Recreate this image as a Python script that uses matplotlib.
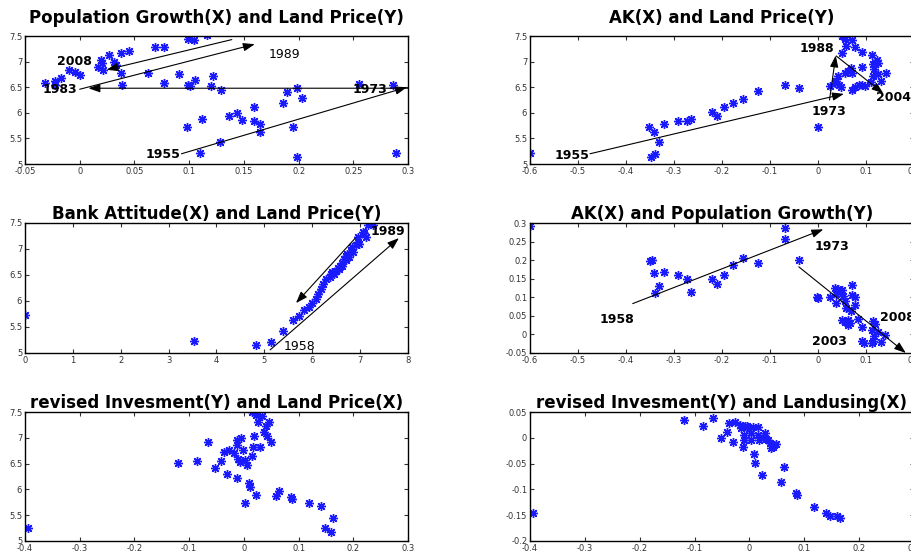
import matplotlib
matplotlib.use("Agg")
import matplotlib.pyplot as plt
from matplotlib.ticker import FuncFormatter

plt.rcParams['font.family'] = ['DejaVu Sans']
plt.rcParams['axes.unicode_minus'] = False

# ---------------- data ----------------
# Panel 1: Population Growth (X) vs Land Price (Y)
pg_x = [-0.032, -0.023, -0.023, -0.017, -0.010, -0.004, 0.000, 0.017, 0.019, 0.020,
        0.021, 0.027, 0.031, 0.033, 0.038, 0.038, 0.039, 0.045, 0.062, 0.069,
        0.077, 0.077, 0.091, 0.099, 0.104, 0.099, 0.101, 0.105, 0.116, 0.120,
        0.122, 0.129, 0.098, 0.112, 0.110, 0.128, 0.136, 0.144, 0.148, 0.159,
        0.159, 0.165, 0.165, 0.186, 0.189, 0.195, 0.199, 0.199, 0.203, 0.255,
        0.286, 0.289]
pg_y = [6.59, 6.63, 6.55, 6.68, 6.84, 6.80, 6.73, 6.90, 7.03, 6.98,
        6.84, 7.12, 7.00, 6.93, 7.17, 6.78, 6.54, 7.21, 6.77, 7.29,
        7.29, 6.58, 6.76, 7.45, 7.42, 6.54, 6.52, 6.64, 7.51, 6.52,
        6.71, 6.45, 5.73, 5.88, 5.21, 5.42, 5.94, 6.00, 5.85, 6.11,
        5.84, 5.79, 5.63, 6.20, 6.41, 5.72, 6.49, 5.14, 6.28, 6.56,
        6.55, 5.21]

# Panel 2: AK (X) vs Land Price (Y)
ak_x = [-0.599, -0.352, -0.341, -0.331, -0.347, -0.340, -0.320, -0.291, -0.273, -0.265,
        -0.221, -0.210, -0.195, -0.178, -0.157, -0.124, -0.068, -0.040, -0.001,
        0.049, 0.056, 0.070, 0.059, 0.077, 0.092, 0.049, 0.113, 0.122, 0.125,
        0.118, 0.114, 0.091, 0.117, 0.068, 0.063, 0.056, 0.070, 0.125, 0.141,
        0.115, 0.042, 0.038, 0.132, 0.035, 0.024, 0.043, 0.047, 0.070, 0.077,
        0.085, 0.092, 0.097, 0.111]
ak_lp = [5.21, 5.72, 5.63, 5.42, 5.13, 5.20, 5.79, 5.84, 5.84, 5.88,
         6.01, 5.94, 6.11, 6.20, 6.27, 6.43, 6.54, 6.49, 5.72,
         7.50, 7.44, 7.42, 7.30, 7.29, 7.19, 7.17, 7.13, 7.03, 6.98,
         6.97, 6.95, 6.90, 6.85, 6.87, 6.82, 6.77, 6.77, 6.75, 6.78,
         6.71, 6.71, 6.63, 6.63, 6.59, 6.52, 6.54, 6.51, 6.45, 6.50,
         6.54, 6.54, 6.52, 6.61]

# Panel 3: Bank Attitude (X) vs Land Price (Y)
ba_x = [0.00, 3.52, 4.82, 5.13, 5.39, 5.59, 5.73, 5.83, 5.93, 6.00,
        6.07, 6.13, 6.18, 6.23, 6.28, 6.37, 6.39, 6.42, 6.46, 6.49,
        6.54, 6.56, 6.59, 6.63, 6.63, 6.66, 6.70, 6.70, 6.73, 6.77,
        6.80, 6.84, 6.86, 6.91, 6.96, 6.96, 6.98, 7.05, 7.08, 7.12,
        7.17, 7.22, 7.26]
ba_y = [5.73, 5.24, 5.15, 5.21, 5.42, 5.64, 5.72, 5.82, 5.89, 5.96,
        6.03, 6.13, 6.23, 6.32, 6.43, 6.47, 6.52, 6.55, 6.52, 6.58,
        6.63, 6.62, 6.68, 6.74, 6.67, 6.81, 6.86, 6.78, 6.90, 6.84,
        6.97, 7.03, 6.94, 7.07, 7.14, 7.23, 7.10, 7.33, 7.30, 7.24,
        7.46, 7.50, 7.47]

# Panel 4: AK (X) vs Population Growth (Y)
ak2_x = [-0.599, -0.350, -0.345, -0.341, -0.331, -0.340, -0.320, -0.291, -0.273, -0.265,
         -0.221, -0.210, -0.195, -0.178, -0.157, -0.124, -0.068, -0.068, -0.040, -0.001,
         -0.003, 0.024, 0.035, 0.042, 0.049, 0.038, 0.045, 0.052, 0.037, 0.056,
         0.071, 0.070, 0.077, 0.078, 0.059, 0.068, 0.050, 0.056, 0.063, 0.066,
         0.063, 0.084, 0.092, 0.115, 0.118, 0.113, 0.125, 0.117, 0.139, 0.131,
         0.091, 0.096, 0.115, 0.113]
ak2_pg = [0.292, 0.198, 0.200, 0.166, 0.130, 0.112, 0.168, 0.159, 0.148, 0.114,
          0.148, 0.137, 0.159, 0.187, 0.205, 0.192, 0.287, 0.257, 0.200, 0.098,
          0.100, 0.100, 0.125, 0.123, 0.120, 0.110, 0.114, 0.103, 0.085, 0.089,
          0.133, 0.105, 0.102, 0.078, 0.071, 0.062, 0.039, 0.033, 0.039, 0.030,
          0.025, 0.041, 0.019, 0.035, 0.029, 0.012, 0.007, -0.005, -0.002, -0.020,
          -0.018, -0.022, -0.017, -0.024]

# Panel 5: revised Investment vs Land Price
ri_x = [-0.395, -0.121, -0.086, -0.066, -0.052, -0.042, -0.037, -0.031, -0.028, -0.018,
        -0.013, -0.012, -0.012, -0.006, -0.011, -0.007, -0.001, 0.003, 0.005, 0.002,
        0.009, 0.011, 0.015, 0.023, 0.026, 0.034, 0.015, 0.017, 0.018, 0.023,
        0.029, 0.037, 0.040, 0.043, 0.046, 0.049, 0.058, 0.064, 0.086, 0.088,
        0.119, 0.141, 0.148, 0.159, 0.163]
ri_lp = [5.25, 6.52, 6.55, 6.91, 6.42, 6.55, 6.72, 6.30, 6.76, 6.70,
         6.87, 6.96, 6.23, 6.99, 6.59, 6.54, 6.77, 6.57, 6.48, 5.74,
         6.12, 6.04, 7.50, 7.44, 7.30, 7.43, 6.64, 6.82, 7.04, 5.89,
         6.83, 7.12, 7.22, 7.03, 7.30, 6.91, 5.87, 5.97, 5.86, 5.81,
         5.73, 5.67, 5.25, 5.18, 5.44]

# Panel 6: revised Investment vs Landusing
ri2_x = [-0.395, -0.120, -0.085, -0.067, -0.052, -0.040, -0.037, -0.030, -0.026, -0.018,
         -0.016, -0.012, -0.010, -0.009, -0.008, -0.004, 0.000, 0.002, 0.003, 0.006,
         0.009, 0.011, 0.015, 0.015, 0.018, 0.023, 0.024, 0.029, 0.030, 0.034,
         0.037, 0.040, 0.045, 0.049, 0.043, 0.057, 0.063, 0.084, 0.087, 0.118,
         0.139, 0.146, 0.160, 0.165]
ri2_lu = [-0.145, 0.035, 0.023, 0.038, -0.001, 0.011, 0.029, -0.008, 0.030, 0.025,
          0.019, -0.017, -0.004, 0.006, 0.022, 0.023, 0.017, 0.009, -0.005, 0.020,
          -0.031, -0.048, 0.006, 0.021, -0.005, -0.072, 0.000, 0.009, -0.003, -0.004,
          -0.010, -0.020, -0.014, -0.012, -0.018, -0.085, -0.056, -0.107, -0.111, -0.134,
          -0.145, -0.152, -0.152, -0.155]

titles = ["Population Growth(X) and Land Price(Y)",
          "AK(X) and Land Price(Y)",
          "Bank Attitude(X) and Land Price(Y)",
          "AK(X) and Population Growth(Y)",
          "revised Invesment(Y) and Land Price(X)",
          "revised Invesment(Y) and Landusing(X)"]

xlims = [(-0.05, 0.3), (-0.6, 0.2), (0, 8), (-0.6, 0.2), (-0.4, 0.3), (-0.4, 0.3)]
ylims = [(5, 7.5), (5, 7.5), (5, 7.5), (-0.05, 0.3), (5, 7.5), (-0.2, 0.05)]
xticks = [[-0.05, 0, 0.05, 0.1, 0.15, 0.2, 0.25, 0.3],
          [-0.6, -0.5, -0.4, -0.3, -0.2, -0.1, 0, 0.1, 0.2],
          [0, 1, 2, 3, 4, 5, 6, 7, 8],
          [-0.6, -0.5, -0.4, -0.3, -0.2, -0.1, 0, 0.1, 0.2],
          [-0.4, -0.3, -0.2, -0.1, 0, 0.1, 0.2, 0.3],
          [-0.4, -0.3, -0.2, -0.1, 0, 0.1, 0.2, 0.3]]
yticks = [[5, 5.5, 6, 6.5, 7, 7.5],
          [5, 5.5, 6, 6.5, 7, 7.5],
          [5, 5.5, 6, 6.5, 7, 7.5],
          [-0.05, 0, 0.05, 0.1, 0.15, 0.2, 0.25, 0.3],
          [5, 5.5, 6, 6.5, 7, 7.5],
          [-0.2, -0.15, -0.1, -0.05, 0, 0.05]]

series = [(pg_x, pg_y), (ak_x, ak_lp), (ba_x, ba_y),
          (ak2_x, ak2_pg), (ri_x, ri_lp), (ri2_x, ri2_lu)]

# annotations: (panel, text, xy of text, bold)
labels = [
    (0, "2008", (-0.005, 7.01), True), (0, "1983", (-0.018, 6.45), True),
    (0, "1973", (0.265, 6.46), True), (0, "1955", (0.076, 5.18), True),
    (0, "1989", (0.187, 7.13), False),
    (1, "1988", (-0.003, 7.26), True), (1, "1973", (0.022, 6.02), True),
    (1, "2004", (0.158, 6.30), True), (1, "1955", (-0.512, 5.16), True),
    (2, "1958", (5.73, 5.12), False), (2, "1989", (7.57, 7.33), True),
    (3, "1958", (-0.418, 0.041), True), (3, "1973", (0.028, 0.237), True),
    (3, "2003", (0.024, -0.020), True), (3, "2008", (0.165, 0.046), True),
]
# arrows: (panel, start, end)
arrows = [
    (0, (0.093, 5.20), (0.299, 6.50)),
    (0, (0.300, 6.48), (0.008, 6.48)),
    (0, (0.000, 6.46), (0.160, 7.34)),
    (0, (0.139, 7.43), (0.0245, 6.84)),
    (1, (-0.475, 5.20), (0.054, 6.37)),
    (1, (0.024, 6.25), (0.037, 7.12)),
    (1, (0.038, 7.11), (0.136, 6.38)),
    (2, (6.91, 7.22), (5.66, 5.96)),
    (2, (5.12, 5.06), (7.81, 7.21)),
    (3, (-0.386, 0.083), (0.011, 0.283)),
    (3, (-0.040, 0.182), (0.183, -0.050)),
]

# ---------------- layout ----------------
W, H = 912, 553
fig = plt.figure(figsize=(W / 100, H / 100), dpi=100)
colx = [(25, 408), (530, 914)]
rowy = [(36, 164), (223, 353), (412, 541)]
title_pad = [9.5, 3, 3]

fmt = FuncFormatter(lambda v, p: ("%g" % round(v, 4)))

axes = []
for i in range(6):
    r, c = divmod(i, 2)
    x0, x1 = colx[c]
    y0, y1 = rowy[r]
    ax = fig.add_axes([x0 / W, 1 - y1 / H, (x1 - x0) / W, (y1 - y0) / H])
    axes.append(ax)
    xs, ys = series[i]
    ax.plot(xs, ys, linestyle='none', marker=(8, 2, 0), markersize=6.5,
            markeredgewidth=1.0, color='#1a1aff', markeredgecolor='#1a1aff')
    ax.set_xlim(*xlims[i])
    ax.set_ylim(*ylims[i])
    ax.set_xticks(xticks[i])
    ax.set_yticks(yticks[i])
    ax.xaxis.set_major_formatter(fmt)
    ax.yaxis.set_major_formatter(fmt)
    ax.tick_params(direction='in', length=3, width=0.8, top=True, right=True,
                   labelsize=6, colors='#333333', pad=2)
    for s in ax.spines.values():
        s.set_linewidth(1.0)
        s.set_color('black')
    ax.set_title(titles[i], fontsize=12, fontweight='bold', pad=title_pad[r])

for p, txt, xy, bold in labels:
    axes[p].text(xy[0], xy[1], txt, fontsize=9,
                 fontweight='bold' if bold else 'normal',
                 ha='center', va='center', color='black',
                 clip_on=False)

for p, s, e in arrows:
    axes[p].annotate("", xy=e, xytext=s,
                     arrowprops=dict(arrowstyle='-|>,head_length=0.7,head_width=0.25',
                                     color='black', lw=0.8, shrinkA=0, shrinkB=0),
                     annotation_clip=False)

fig.savefig("out.png", dpi=100)
